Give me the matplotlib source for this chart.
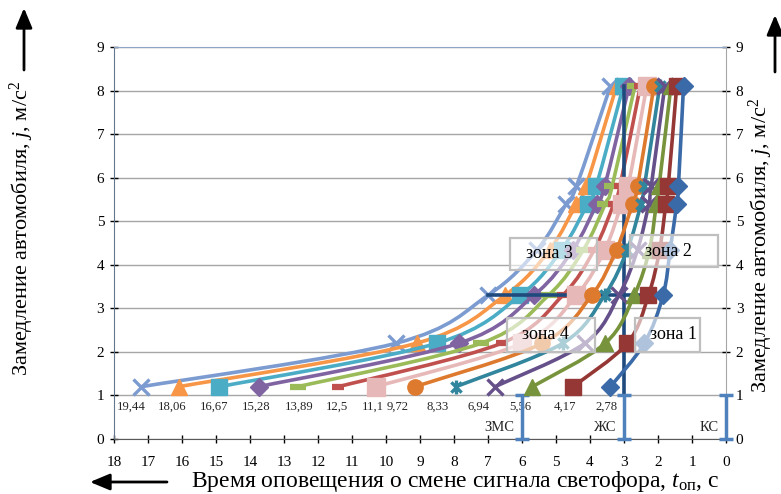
import numpy as np
import matplotlib
matplotlib.use("Agg")
import matplotlib.pyplot as plt
from matplotlib.path import Path
from matplotlib.patches import PathPatch, Rectangle

plt.rcParams['font.family'] = ['Liberation Serif', 'DejaVu Serif']
plt.rcParams['mathtext.fontset'] = 'custom'
plt.rcParams['mathtext.rm'] = 'Liberation Serif'
plt.rcParams['mathtext.it'] = 'Liberation Serif:italic'

# deceleration levels (y) shared by all series
decel = [1.2, 2.2, 3.3, 4.35, 5.4, 5.8, 8.1]

# speed labels, from the farthest curve (left) to the nearest (right)
speed_labels = ['19,44', '18,06', '16,67', '15,28', '13,89', '12,5', '11,1',
                '9,72', '8,33', '6,94', '5,56', '4,17', '2,78']

# warning time t_op for each speed at each deceleration level
t_1944 = [17.2, 9.7, 7.0, 5.55, 4.7, 4.4, 3.4]
t_1806 = [16.1, 9.1, 6.5, 5.18, 4.4, 4.12, 3.22]
t_1667 = [14.9, 8.5, 6.05, 4.83, 4.07, 3.82, 3.02]
t_1528 = [13.75, 7.85, 5.65, 4.5, 3.8, 3.57, 2.85]
t_1389 = [12.6, 7.2, 5.22, 4.19, 3.55, 3.35, 2.68]
t_1250 = [11.4, 6.6, 4.8, 3.87, 3.3, 3.12, 2.52]
t_1110 = [10.3, 6.0, 4.4, 3.56, 3.07, 2.88, 2.33]
t_972 = [9.15, 5.4, 3.95, 3.22, 2.75, 2.6, 2.12]
t_833 = [7.95, 4.8, 3.57, 2.9, 2.5, 2.4, 1.95]
t_694 = [6.8, 4.15, 3.15, 2.6, 2.27, 2.2, 1.8]
t_556 = [5.7, 3.55, 2.7, 2.25, 2.05, 1.97, 1.62]
t_417 = [4.5, 2.9, 2.28, 1.95, 1.77, 1.7, 1.45]
t_278 = [3.4, 2.4, 1.85, 1.64, 1.45, 1.4, 1.25]

series_t = [t_1944, t_1806, t_1667, t_1528, t_1389, t_1250, t_1110,
            t_972, t_833, t_694, t_556, t_417, t_278]

# signal phases at the bottom
signal_t = [6, 3, 0]
signal_names = ['ЗМС', 'ЖС', 'КС']
signal_top = [1, 1, 1]

# crosshair: yellow-signal time and chosen deceleration
cross_t = 3
cross_j = 3.3

# zone captions
zone_names = ['зона 1', 'зона 2', 'зона 3', 'зона 4']

# ---- styles ----
star = Path([(-1, -1), (1, 1), (-1, 1), (1, -1), (0, -1.35), (0, 1.35)],
            [Path.MOVETO, Path.LINETO, Path.MOVETO, Path.LINETO, Path.MOVETO, Path.LINETO])
colors = ['#7B9BD1', '#F79646', '#4BACC6', '#8064A2', '#9BBB59', '#C0504D', '#E6B9B8',
          '#DE7A2E', '#31859C', '#65508A', '#77933C', '#953735', '#3B6AA8']
markers = ['x', '^', 's', 'D', '_', '_', 's', 'o', star, 'x', '^', 's', 'D']
msizes = [11, 12, 11, 9, 11, 9, 12.5, 11, 10, 11, 12, 11.5, 9]
label_x = [17.5, 16.3, 15.05, 13.83, 12.56, 11.45, 10.4, 9.66, 8.47, 7.29, 6.06, 4.74, 3.5]
navy = '#1F4A7E'


def smooth_path(x, y):
    pts = np.column_stack([x, y]).astype(float)
    n = len(pts)
    verts = [pts[0]]
    codes = [Path.MOVETO]
    for i in range(n - 1):
        p0 = pts[i - 1] if i > 0 else pts[i]
        p1, p2 = pts[i], pts[i + 1]
        p3 = pts[i + 2] if i + 2 < n else pts[i + 1]
        verts += [p1 + (p2 - p0) / 6, p2 - (p3 - p1) / 6, p2]
        codes += [Path.CURVE4] * 3
    return Path(verts, codes)


fig = plt.figure(figsize=(7.81, 4.94), dpi=100)
ax = fig.add_axes([114 / 781, 1 - 439 / 494, 612 / 781, 392 / 494])

ax.set_xlim(18, 0)
ax.set_ylim(0, 9)
ax.set_xticks(range(0, 19))
ax.set_yticks(range(0, 10))
ax.yaxis.grid(True, color='#A6A6A6', lw=1)
ax.set_axisbelow(True)
ax.tick_params(axis='both', direction='inout', length=6, width=1, labelsize=11, colors='black')
ax.tick_params(axis='y', right=True, labelright=True, pad=4)
ax.tick_params(axis='x', pad=9)
ax.spines['left'].set_color('#66768C')
ax.spines['right'].set_color('#A6A6A6')
ax.spines['top'].set_color('#8EA5C8')
ax.spines['bottom'].set_color('#595959')

for k, (tt, c, m, ms) in enumerate(zip(series_t, colors, markers, msizes)):
    z = 3 + k * 0.1 if k >= 6 else 2 + k * 0.1
    ax.add_patch(PathPatch(smooth_path(tt, decel), fill=False, edgecolor=c, lw=2.6,
                           zorder=z, capstyle='round'))
    mew = 2.4 if m in ('x',) or m is star else (4.5 if m == '_' else 1)
    ax.plot(tt, decel, ls='none', marker=m, ms=ms, color=c, mec=c, mew=mew, zorder=z + 0.05)
    ax.text(label_x[k], 0.73, speed_labels[k], ha='center', va='center', fontsize=9.2, color='#262626')

# crosshair
ax.plot([t_1944[2], t_278[2]], [cross_j, cross_j], color=navy, lw=2.6, zorder=2.9)
ax.plot([cross_t, cross_t], [signal_top[1], decel[-1]], color=navy, lw=2.6, zorder=2.9)

# signal phase bars
eb = ax.errorbar(signal_t, signal_top, yerr=[signal_top, [0, 0, 0]], fmt='none',
                 ecolor='#4F81BD', elinewidth=2.5, capsize=5, capthick=2.5, zorder=4)
for art in eb.lines[1] + eb.lines[2]:
    art.set_clip_on(False)
for st, nm in zip(signal_t, signal_names):
    ax.text(st + 0.22, 0.27, nm, ha='right', va='center', fontsize=10.5, color='#262626')

# zone boxes
zone_boxes = [(2.68, 2.0, 1.92, 0.78, 1.53), (2.82, 3.95, 2.58, 0.73, 1.68),
              (6.35, 3.88, 2.56, 0.74, 5.2), (6.44, 2.0, 2.59, 0.78, 5.32)]
for nm, (x0, y0, w, h, tx) in zip(zone_names, zone_boxes):
    ax.add_patch(Rectangle((x0, y0), -w, h, facecolor='white', alpha=0.6, edgecolor='none', zorder=5))
    ax.add_patch(Rectangle((x0, y0), -w, h, facecolor='none', edgecolor='#BFBFBF', lw=1.6, zorder=5.1))
    ax.text(tx, y0 + h / 2, nm, ha='center', va='center', fontsize=13, zorder=5.2)

# axis titles and arrows
ylab = 'Замедление автомобиля, $j$, м/с$^2$'
fig.text(22 / 781, 1 - 228 / 494, ylab, rotation=90, ha='center', va='center', fontsize=16)
fig.text(761 / 781, 1 - 245 / 494, ylab, rotation=90, ha='center', va='center', fontsize=16)
fig.text(455 / 781, 1 - 481 / 494, 'Время оповещения о смене сигнала светофора, $t_{\\mathrm{оп}}$, с',
         ha='center', va='center', fontsize=17)

arrow = dict(arrowstyle='-|>,head_length=0.6,head_width=0.25', color='black', lw=2, mutation_scale=20,
             shrinkA=0, shrinkB=0)
ax.annotate('', xy=(24 / 781, 1 - 8 / 494), xytext=(24 / 781, 1 - 70 / 494),
            xycoords='figure fraction', arrowprops=arrow)
ax.annotate('', xy=(775 / 781, 1 - 15 / 494), xytext=(775 / 781, 1 - 72 / 494),
            xycoords='figure fraction', arrowprops=arrow)
ax.annotate('', xy=(90 / 781, 1 - 482 / 494), xytext=(167 / 781, 1 - 482 / 494),
            xycoords='figure fraction', arrowprops=arrow)

fig.savefig('out.png', dpi=100)
